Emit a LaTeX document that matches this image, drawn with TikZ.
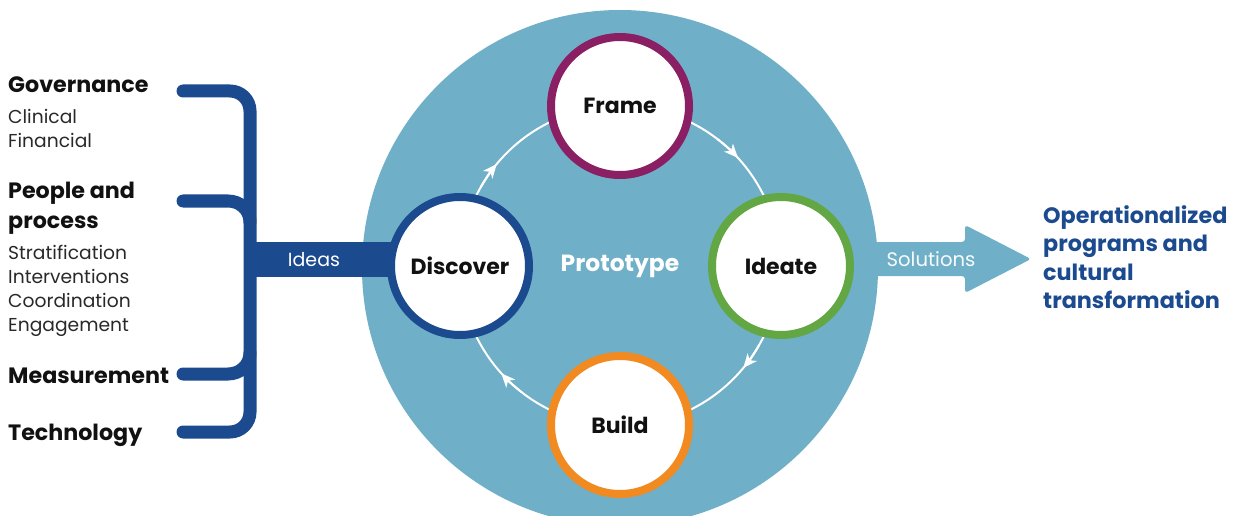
\documentclass[tikz,border=0pt]{standalone}
\usepackage{fontspec}
\setmainfont{Poppins}
\usetikzlibrary{arrows.meta,calc}
\definecolor{dblue}{HTML}{1B4A8F}
\definecolor{lblue}{HTML}{6FAFC7}
\definecolor{cpurple}{HTML}{8A1F64}
\definecolor{cgreen}{HTML}{62A744}
\definecolor{corange}{HTML}{F18A21}
\definecolor{txt}{HTML}{111111}
\pgfdeclarelayer{bg}
\pgfsetlayers{bg,main}
\tikzset{
  stage/.style={circle, draw, line width=8pt, fill=white, minimum size=138pt, inner sep=0pt,
    font=\fontsize{22}{28}\selectfont\bfseries, text=txt},
  head/.style={anchor=base west, inner sep=0pt, font=\fontsize{22.2}{26}\selectfont\bfseries, text=txt},
  item/.style={anchor=base west, inner sep=0pt, font=\fontsize{18.7}{24}\selectfont, text=txt!90},
  bracket/.style={draw=dblue, line width=13pt, line cap=round},
  cyc/.style={white, line width=2pt},
  cyctip/.tip={Stealth[length=14pt,width=12pt,inset=4pt]},
}
\begin{document}
\begin{tikzpicture}[x=1pt,y=-1pt]
\useasboundingbox (0,0) rectangle (1235,516);
\clip (0,0) rectangle (1235,516);

% stage nodes
\node[stage, draw=cpurple] (frame) at (620,106) {Frame};
\node[stage, draw=cgreen] (ideate) at (781,266) {Ideate};
\node[stage, draw=corange] (build) at (620,425) {Build};
\node[stage, draw=dblue] (discover) at (460,266) {Discover};
\node[anchor=base, inner sep=0pt, font=\fontsize{23.4}{28}\selectfont\bfseries, text=white] (proto) at (620,271) {Prototype};
\coordinate (cyc) at (620,266);

% left texts
\node[head] (gov) at (8,93) {Governance};
\node[item] (clin) at (8,124) {Clinical};
\node[item] (fin) at (8,148) {Financial};
\node[head] (ppl1) at (8,199) {People and};
\node[head] (ppl2) at (8,228) {process};
\node[item] (strat) at (8,259) {Stratification};
\node[item] (interv) at (8,283) {Interventions};
\node[item] (coord) at (8,307) {Coordination};
\node[item] (engag) at (8,331) {Engagement};
\node[head] (meas) at (8,383) {Measurement};
\node[head] (tech) at (8,440) {Technology};

% right text
\node[anchor=base west, inner sep=0pt, align=left, text=dblue,
  font=\fontsize{22.3}{28.5}\selectfont\bfseries] (result) at (1043,308.5)
  {Operationalized\\programs and\\cultural\\transformation};

\coordinate (ideasjoin) at (244,259.5);
\coordinate (soltail) at (850,259);
\coordinate (soltip) at (1031,259);

\begin{pgfonlayer}{bg}
  \fill[lblue] (620,268) circle[radius=258];
  \draw[cyc] (cyc) circle[radius=160];
  \foreach \a in {39.6,137.9,219.6,317.5}{
    \draw[cyc, -{cyctip}] ($(cyc)+(\a-10:160)$) arc[start angle=\a-10, end angle=\a, radius=160];
  }
  % bracket
  \draw[bracket] (183,91) -- (230,91) .. controls (241,91) and (250,100) .. (250,111)
     -- (250,412) .. controls (250,423) and (241,432) .. (230,432) -- (183,432);
  \draw[bracket] (183,201) -- (228,201) .. controls (240,201) and (250,210) .. (250,222);
  \draw[bracket] (183,374) -- (228,374) .. controls (240,374) and (250,365) .. (250,353);
  % ideas bar
  \draw[dblue, line width=35pt] (ideasjoin) -- (ideasjoin -| discover.center);
  % solutions arrow
  \fill[lblue, rounded corners=3pt] (soltail |- 0,242) -- (965,242) -- (965,225) -- (soltip)
     -- (965,293) -- (965,276) -- (soltail |- 0,276) -- cycle;
\end{pgfonlayer}

\node[anchor=base, inner sep=0pt, text=white, font=\fontsize{19}{24}\selectfont] (ideas) at (314,266) {Ideas};
\node[anchor=base, inner sep=0pt, text=white!95!lblue, font=\fontsize{19.6}{24}\selectfont] (sol) at (931,266) {Solutions};
\end{tikzpicture}
\end{document}
